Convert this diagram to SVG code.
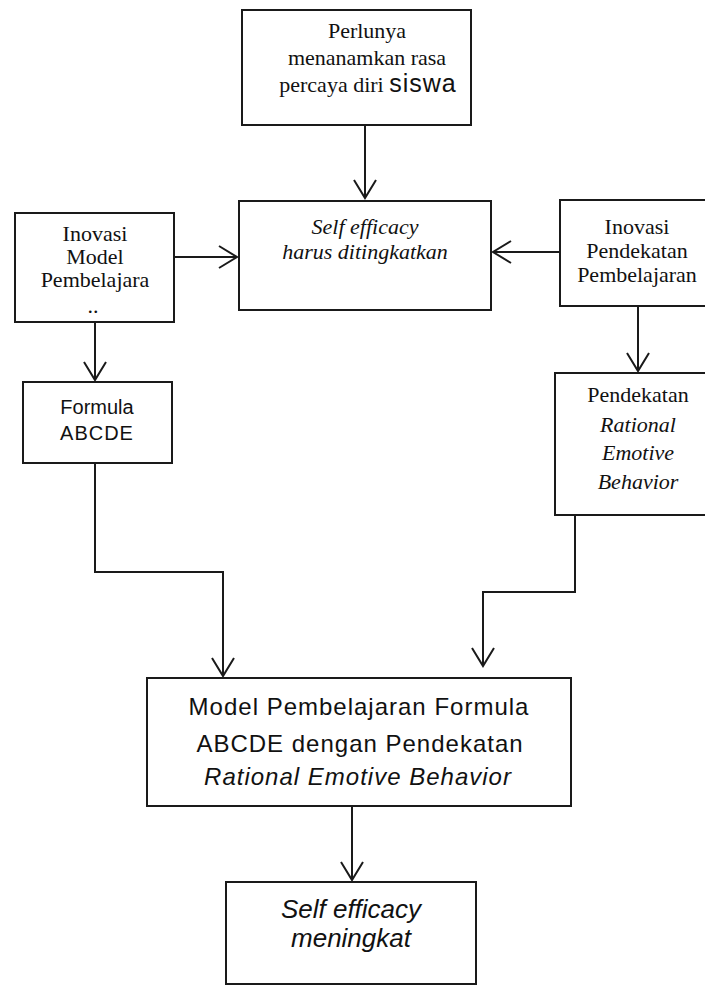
<svg xmlns="http://www.w3.org/2000/svg" width="705" height="990" viewBox="0 0 705 990">
<style>
.box{fill:#fff;stroke:#1a1a1a;stroke-width:2}
.c{fill:none;stroke:#1a1a1a;stroke-width:2}
.s{font-family:"Liberation Serif","Times New Roman",serif;font-size:22px;fill:#111;text-anchor:middle}
.i{font-style:italic}
.a{font-family:"Liberation Sans",Arial,sans-serif;fill:#111;text-anchor:middle}
</style>
<defs>
<marker id="ah" viewBox="-20 -13 22 26" markerWidth="22" markerHeight="26" refX="0" refY="0" orient="auto" markerUnits="userSpaceOnUse">
<path d="M-18,-11 L0,0 L-18,11" fill="none" stroke="#1a1a1a" stroke-width="2"/>
</marker>
</defs>
<rect width="705" height="990" fill="#fff"/>
<g id="connectors">
<path class="c" d="M365,125 V198" marker-end="url(#ah)"/>
<path class="c" d="M174,257 H237" marker-end="url(#ah)"/>
<path class="c" d="M560,252 H493" marker-end="url(#ah)"/>
<path class="c" d="M95,322 V380" marker-end="url(#ah)"/>
<path class="c" d="M638,306 V371" marker-end="url(#ah)"/>
<path class="c" d="M95,463 V572 H223 V676" marker-end="url(#ah)"/>
<path class="c" d="M575,515 V592 H483 V666" marker-end="url(#ah)"/>
<path class="c" d="M352,806 V880" marker-end="url(#ah)"/>
</g>
<g id="n-top">
<rect class="box" x="242" y="10" width="229" height="115"/>
<text class="s" x="367" y="38">Perlunya</text>
<text class="s" x="367" y="65">menanamkan rasa</text>
<text class="s" x="368" y="92">percaya diri <tspan font-family="Liberation Sans, Arial, sans-serif" font-size="25" letter-spacing="1">siswa</tspan></text>
</g>
<g id="n-selfefficacy">
<rect class="box" x="239" y="201" width="252" height="109"/>
<text class="s i" x="365" y="234">Self efficacy</text>
<text class="s i" x="365" y="259">harus ditingkatkan</text>
</g>
<g id="n-inovasi-model">
<rect class="box" x="15" y="213" width="159" height="109"/>
<text class="s" x="95" y="241" font-size="20">Inovasi</text>
<text class="s" x="95" y="264" font-size="20">Model</text>
<text class="s" x="95" y="287" font-size="20">Pembelajara</text>
<text class="s" x="93" y="313" font-size="12">..</text>
</g>
<g id="n-inovasi-pendekatan">
<rect class="box" x="560" y="200" width="160" height="106"/>
<text class="s" x="637" y="234" font-size="21">Inovasi</text>
<text class="s" x="637" y="258" font-size="21">Pendekatan</text>
<text class="s" x="637" y="282" font-size="21">Pembelajaran</text>
</g>
<g id="n-formula">
<rect class="box" x="23" y="382" width="149" height="81"/>
<text class="a" x="97" y="414" font-size="20">Formula</text>
<text class="a" x="97" y="440" font-size="20" letter-spacing="1">ABCDE</text>
</g>
<g id="n-pendekatan-reb">
<rect class="box" x="555" y="373" width="165" height="142"/>
<text class="s" x="638" y="402" font-size="21">Pendekatan</text>
<text class="s i" x="638" y="432">Rational</text>
<text class="s i" x="638" y="460">Emotive</text>
<text class="s i" x="638" y="489">Behavior</text>
</g>
<g id="n-model">
<rect class="box" x="147" y="678" width="424" height="128"/>
<text class="a" x="359" y="715" font-size="24" letter-spacing="1">Model Pembelajaran Formula</text>
<text class="a" x="360" y="752" font-size="24" letter-spacing="1">ABCDE dengan Pendekatan</text>
<text class="a i" x="358" y="785" font-size="24" letter-spacing="1">Rational Emotive Behavior</text>
</g>
<g id="n-meningkat">
<rect class="box" x="226" y="882" width="250" height="102"/>
<text class="a i" x="351" y="918" font-size="26">Self efficacy</text>
<text class="a i" x="351" y="947" font-size="26">meningkat</text>
</g>
</svg>
